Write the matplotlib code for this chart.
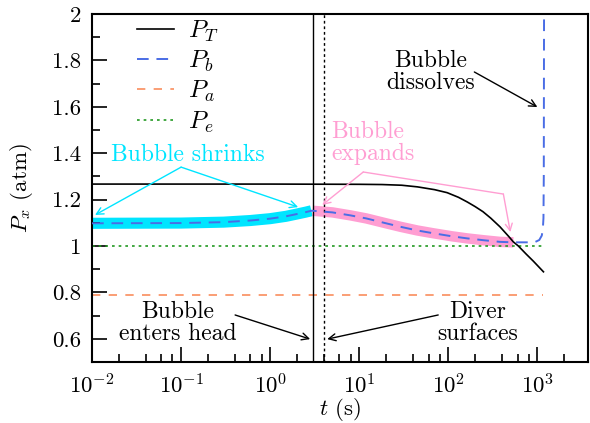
import matplotlib
matplotlib.use('Agg')
import matplotlib.pyplot as plt
from matplotlib.ticker import FixedLocator, MultipleLocator, LogLocator, FuncFormatter

plt.rcParams['font.family'] = 'cmr10'
plt.rcParams['mathtext.fontset'] = 'cm'
plt.rcParams['axes.formatter.use_mathtext'] = True

# total pressure P_T during ascent (atm vs s)
t_T = [0.01, 1, 10, 18, 30, 45, 70, 97, 130, 163, 200, 245, 300, 380, 480, 537, 612, 750, 900, 1170]
P_T = [1.267, 1.267, 1.266, 1.265, 1.262, 1.255, 1.243, 1.23, 1.21, 1.19, 1.17, 1.148, 1.12,
       1.083, 1.04, 1.018, 1.0, 0.965, 0.935, 0.889]

# bubble pressure, split by phase
t_shrink = [0.01, 0.1, 0.3, 0.6, 1, 1.5, 2, 2.5, 2.9]
P_shrink = [1.098, 1.099, 1.103, 1.110, 1.118, 1.128, 1.138, 1.146, 1.152]
t_expand = [3, 5, 8, 12, 20, 29, 45, 68, 110, 163, 250, 380, 537]
P_expand = [1.152, 1.145, 1.132, 1.119, 1.098, 1.083, 1.067, 1.055, 1.042, 1.033, 1.025, 1.018, 1.016]
t_dissolve = [537, 800, 950, 1050, 1120, 1150, 1170, 1180, 1190]
P_dissolve = [1.016, 1.016, 1.018, 1.026, 1.045, 1.07, 1.12, 1.3, 2.2]

# ambient and equilibrium pressures
t_flat = [0.01, 1170]
P_a = [0.79, 0.79]
P_e = [1.0, 1.0]

t_enter = 3.0
t_surface = 4.0

c_blue = '#4a6de5'
c_cyan = '#00e5ff'
c_pink = '#ff9ed2'
c_orange = '#f98d5e'
c_green = '#229a22'

fig = plt.figure(figsize=(5.9, 4.23), dpi=100)
ax = fig.add_axes([0.156, 0.144, 0.8406, 0.823])

# highlight bands under the bubble curve
ax.plot(t_shrink, P_shrink, color=c_cyan, lw=8, solid_capstyle='butt', zorder=1)
ax.plot(t_expand, P_expand, color=c_pink, lw=7.5, solid_capstyle='butt', zorder=1)

t_b = t_shrink + t_expand + t_dissolve[1:]
P_b = P_shrink + P_expand + P_dissolve[1:]

ax.plot(t_T, P_T, color='k', lw=1.2, label='$P_T$', zorder=3)
ax.plot(t_b, P_b, color=c_blue, lw=1.4, dashes=(6, 4), label='$P_b$', zorder=3)
ax.plot(t_flat, P_a, color=c_orange, lw=1.2, dashes=(5, 5), label='$P_a$', zorder=2)
ax.plot(t_flat, P_e, color=c_green, lw=1.2, dashes=(1.6, 2.4), label='$P_e$', zorder=2)

ax.axvline(t_enter, color='k', lw=1.0, zorder=2)
ax.axvline(t_surface, color='k', lw=1.0, dashes=(2, 2), zorder=2)

ax.set_xscale('log')
ax.set_xlim(0.01, 3700)
ax.set_ylim(0.5, 2.0)

ax.xaxis.set_major_locator(LogLocator(base=10, numticks=10))
ax.xaxis.set_minor_locator(LogLocator(base=10, subs=(2, 4, 6, 8), numticks=20))
ax.yaxis.set_major_locator(FixedLocator([0.6, 0.8, 1.0, 1.2, 1.4, 1.6, 1.8, 2.0]))
ax.yaxis.set_minor_locator(MultipleLocator(0.1))
ax.yaxis.set_major_formatter(FuncFormatter(lambda v, p: '%g' % v))

ax.tick_params(which='both', direction='in', top=False, right=False, labelsize=16.5)
ax.tick_params(which='major', length=11, width=1.2, pad=8)
ax.tick_params(which='minor', length=6, width=1.2)
for s in ax.spines.values():
    s.set_linewidth(1.5)

ax.set_xlabel('$t$ (s)', fontsize=16.5, labelpad=-1)
ax.set_ylabel('$P_x$ (atm)', fontsize=16.5, labelpad=12)

ax.legend(loc='upper left', bbox_to_anchor=(0.06, 1.03), frameon=False, fontsize=18,
          handlelength=1.5, handletextpad=0.55, labelspacing=0.2, borderaxespad=0.2)

arrow = dict(arrowstyle='->,head_length=0.5,head_width=0.25', lw=1.0, shrinkA=0, shrinkB=0)

# bubble shrinks
ax.text(0.12, 1.392, 'Bubble shrinks', color=c_cyan, fontsize=17, ha='center', va='center')
ax.annotate('', xy=(0.0108, 1.134), xytext=(0.1, 1.34), arrowprops=dict(arrow, color=c_cyan))
ax.annotate('', xy=(2.06, 1.168), xytext=(0.1, 1.34), arrowprops=dict(arrow, color=c_cyan))

# bubble expands
ax.text(4.9, 1.444, 'Bubble\nexpands', color=c_pink, fontsize=17, ha='left', va='center',
        linespacing=1.0)
ax.annotate('', xy=(3.84, 1.177), xytext=(11.1, 1.319), arrowprops=dict(arrow, color=c_pink))
ax.annotate('', xy=(415, 1.224), xytext=(11.1, 1.319),
            arrowprops=dict(arrowstyle='-', color=c_pink, lw=1.0, shrinkA=0, shrinkB=0))
ax.annotate('', xy=(497, 1.06), xytext=(415, 1.224), arrowprops=dict(arrow, color=c_pink))

# bubble dissolves
ax.text(62.8, 1.75, 'Bubble\ndissolves', color='k', fontsize=17, ha='center', va='center',
        linespacing=1.0)
ax.annotate('', xy=(1000, 1.599), xytext=(196, 1.75), arrowprops=dict(arrow, color='k'))

# events
ax.text(0.0925, 0.668, 'Bubble\nenters head', color='k', fontsize=17, ha='center', va='center',
        linespacing=1.0)
ax.annotate('', xy=(2.81, 0.599), xytext=(0.404, 0.703), arrowprops=dict(arrow, color='k'))
ax.text(212, 0.668, 'Diver\nsurfaces', color='k', fontsize=17, ha='center', va='center',
        linespacing=1.0)
ax.annotate('', xy=(4.37, 0.599), xytext=(77, 0.703), arrowprops=dict(arrow, color='k'))

fig.savefig('out.png', dpi=100)
